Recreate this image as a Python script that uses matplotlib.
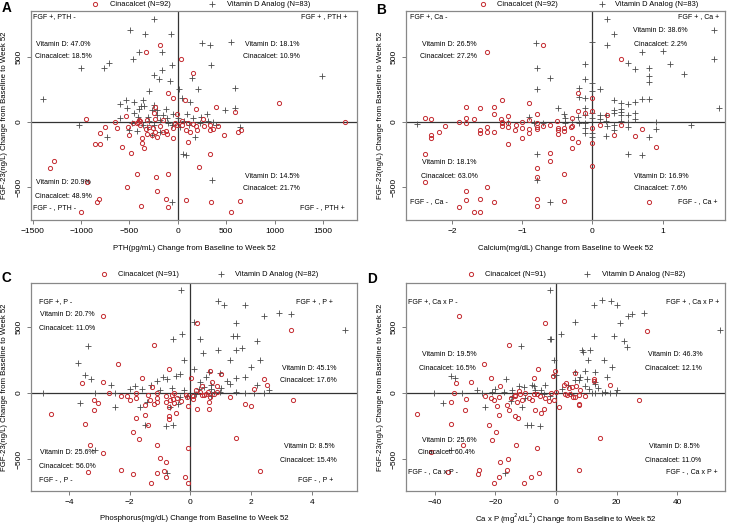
import matplotlib
matplotlib.use("Agg")
import matplotlib.pyplot as plt
from matplotlib.lines import Line2D

plt.rcParams['font.family'] = ['Liberation Sans', 'DejaVu Sans']

W, H = 733, 525

# ---------------- Panel A : PTH ----------------
a_cin_x = [-183, -331, 34, 152, -103, -52, 76, 190, 397, 590, 1042, 1732, -949, -649, -538, -235, -245, -10,
           -752, -631, -518, -804, -859, -804, -576, -507, -483, -373, -349, -373, 103, 224, 335, -1280, -1321,
           -424, -224, -100, -528, -217, -942, -817, -831, -1000, -383, -121, -103, 83, 345, 638, 555,
           -424, -321, -293, -252, -235, -217, -183, -124, -107, -45, -45, -28, 41, 86, 110, 162, 190, 128, 273,
           328, 335, 369, 411, 473, 618, 652, -407, -390, -328, -269, 41, -397, -148, -235,
           -460, -390, -150, 200, 260, -320, -10]
a_cin_y = [587, 536, 479, 372, 219, 186, 168, 102, 112, 79, 148, 0, 20, 3, 48, 112, 71, 61,
           -38, -43, -36, -87, -171, -171, -194, -99, -240, -163, -196, -125, -150, -342, -245, -298, -354,
           -398, -423, -398, -500, -525, -456, -592, -612, -689, -643, -592, -648, -594, -609, -607, -689,
           -10, 15, -36, -48, -74, -112, -31, -69, -94, -48, -125, -5, -23, -61, -5, -18, -31, -74, -31,
           -64, -23, -51, -31, -99, -74, -61, 3, -26, -56, -99, 8, 15, 15, 20,
           -10, 10, -80, -60, 20, -90, -20]
a_vit_x = [-241, -493, -338, -69, -397, -166, -459, -62, -711, -1000, -759, -162, -241, -190, -79, -293, -1397,
           -597, -535, -528, -355, -380, -269, -217, -121, -449, -1021, -735, -269, 17, 41, 128, 145, 204, 248,
           335, 341, 549, 1490, 593, 593, 490, 238, 369, 179, 52, 86, 352, -55, 645,
           -476, -321, -414, -397, 155, 59, 317, -114, -183, -304, -355, 231, -62, -217,
           -400, -300, -250, -150, -100, -50, 0, 20, 100, -350, -450, -250, -600, -500, 300, 400, -180, -420, 120]
a_vit_y = [785, 704, 671, 671, 538, 533, 482, 439, 454, 413, 413, 400, 362, 326, 314, 235, 173,
           138, 168, 105, 168, 122, 92, 92, 97, 66, -23, -112, -99, 255, 181, 156, 334, 250, 602,
           589, 436, 609, 352, 258, 110, 92, 41, 3, -112, -247, -255, -444, -609, -36,
           -10, -36, 41, 97, 28, 10, 10, 28, 15, 41, -23, -10, -23, 54,
           0, 10, -20, 50, -10, 60, 30, -40, 60, 120, 150, 130, 30, -60, 60, -20, -80, -70, -20]

# ---------------- Panel B : Calcium ----------------
b_cin_x = [-0.70, -1.50, 0.41, -1.29, -0.90, -0.20, -0.20, 0, 0, -0.10, -0.79, -0.29, 0.20, -1.80, -1.60, -1.40,
           -1.40, -1.20, -2.39, -2.30, -1.80, -1.69, -1.90, -1.80, -2.10, -2.30, -2.30, -2.19, -2.39, -2.39,
           -1.60, -1.60, -1.50, -1.50, -1.40, -1.20, 0, 0, 0, 0.11, 0.30, 0.41, 0.60, 0.70, 0.90, -0.60, -0.60,
           -0.79, -0.79, -0.40, -1.50, -1.80, -1.80, -1.60, -1.40, -1.90, -1.69, -1.60, -0.79, -0.79, -0.40, 0.81,
           -1.29, -1.29, -1.20, -1.20, -0.90, -0.90, -0.90, -0.79, -0.79, -0.79, -0.70, -0.49, -0.49, -0.49,
           -0.40, -0.40, -0.29, -0.29, -0.29, -0.20, -1.29, -1.09, -1.0, -1.0,
           -1.0, -0.6, -0.3, -1.1, -0.5, -1.3]
b_cin_y = [589, 536, 479, 168, 148, 219, 84, 186, 84, 71, 61, 28, 54, 112, 105, 112,
           59, 46, 28, 20, 28, 20, 0, -10, -28, -99, -120, -74, -245, -456,
           -61, -82, -36, -79, -74, -171, -48, -158, -337, -23, -99, -23, -107, -56, -191, -235, -296,
           -354, -418, -398, -500, -528, -597, -592, -615, -648, -686, -686, -587, -643, -604, -609,
           -10, -31, -5, -36, 15, -56, -82, -10, -36, -54, -31, -43, -61, -94,
           -43, -69, -28, -125, -196, -150, 3, -23, -43, -120,
           0, -20, -40, -60, 10, 20]
b_vit_x = [0.20, 0.30, 0.20, 0, -0.80, 1.74, 1.74, 1.0, 0.70, 1.11, 0.50, 0.60, 0.81, 0.81, 0.81, 1.31, -0.10,
           -0.10, -0.79, -0.79, -0.60, -0.19, -0.19, 0.11, 0, 0, -0.10, 0.30, 0.41, 0.51, 0.61, 0.70, 0.81, 1.81,
           -0.49, -0.10, 1.41, -2.50, 0.19, 0.81, 0.50, 0.70, -0.79, -0.79, -0.60,
           0.30, 0.30, 0.41, 0.41, 0.51, 0.51, 0.60, 0.19, 0.11, 0, 0, -0.10, -0.10, -0.10, -0.10, -0.19, -0.39,
           -0.39, -0.70, -0.84, -0.91, 0.90, 0.30, 0.51, 0.19, 0.41, 0, 0, -0.29, -1.20,
           0.1, 0.2, -0.2, 0.4, 0.6, -0.4, 0.9, 0.3]
b_vit_y = [785, 671, 589, 609, 602, 704, 479, 543, 533, 441, 454, 403, 416, 352, 309, 365, 441,
           326, 413, 255, 334, 260, 194, 250, 301, 237, 181, 168, 148, 138, 156, 173, 173, 105,
           110, 105, -26, -18, -107, -112, -247, -255, -247, -444, -609,
           92, 66, 79, 54, 54, 3, 66, 54, 54, 66, 28, 54, -10, -48, -82, -10, 28,
           -5, -5, -5, 41, 0, -23, -36, 10, 10, -87, -117, 3, 0,
           20, -30, 40, 100, 20, 60, -50, -60]

# ---------------- Panel C : Phosphorus ----------------
c_cin_x = [-2.88, 0.22, -1.19, 3.30, -2.38, -0.69, -3.58, -2.88, -1.58, -1.26, 0.01, 0.70, 1.02, 0.64, 2.42, 2.51,
           2.09, 3.38, -4.58, -3.48, -3.18, -3.05, -3.18, -2.69, -1.79, -1.89, -1.69, -1.40, 0.22, 1.52, -3.29,
           -2.88, -3.37, -2.29, -1.89, -1.10, -0.99, -0.79, -1.10, -0.88, -0.79, -1.29, -0.19, -0.09, -0.09, 2.29,
           -2.29, -2.09, -1.98, -1.79, -1.79, -1.48, -1.48, -1.40, -1.10, -1.10, -1.21, -1.10, -1.32, -0.79, -0.79,
           -0.68, -0.62, -0.57, -0.53, -0.69, -0.69, -0.69, -0.47, -0.16, -0.09, -0.11, 0.10, 0.10, 0.31, 0.38,
           0.44, 0.51, 0.58, 0.64, 0.60, 0.60, 0.77, 0.88, 0.88, 1.29, 1.79, 2.00, -0.55, -0.44, 0.38,
           -0.3, 0.2]
c_cin_y = [580, 529, 365, 474, 219, 181, 76, 81, 111, 43, 111, 81, 146, 164, 103, 63,
           30, -50, -161, -232, -50, -76, -126, 0, -189, -295, -348, -242, -124, -338, -396,
           -451, -597, -580, -610, -391, -494, -519, -602, -590, -635, -680, -635, -418, -680, -587,
           -25, -25, -50, 0, -38, -93, -164, -15, 0, -38, -81, -68, -53, -25, -68,
           -55, -18, -43, -76, -174, -199, -106, -151, -13, -101, -30, -25, -43, 5, -18,
           -13, -10, 8, -33, -71, -121, -10, 55, 8, -30, -86, -98, 0, -35, 50,
           -60, 20]
c_vit_x = [-0.30, 0.91, 1.12, 1.81, 2.91, 3.30, 2.42, 5.11, 0.11, 1.52, -0.27, -0.57, 1.41, 1.54, 0.31, 2.20, 0.42,
           0.91, 1.52, 1.70, -3.38, 1.30, 2.31, -0.20, 2.01, -3.71, -3.48, -3.27, 0.11, -0.46, -0.35, 0.60, 0.97,
           1.21, 1.30, 1.52, 1.81, -4.86, -3.15, -3.65, -2.47, -1.48, -0.79, -0.57, -3.13, -0.77,
           -0.77, -1.10, -1.81, -1.59, -2.47, -1.43, -1.65, -0.68, -0.33, -0.11, 0.69, 0.69, 0.69, 0.77, 1.81,
           2.42, 2.09, 0.31, 0.46, 0.99, -0.90, 0.11,
           -1.3, -2.0, -1.0, -0.6, -0.2, 0.3, 0.5, 1.0, 1.5, 2.2, 2.6, -2.6, -0.4, 0.2]
c_vit_y = [776, 696, 663, 663, 605, 595, 580, 474, 534, 529, 444, 408, 433, 433, 406, 393, 305,
           323, 328, 343, 358, 252, 252, 252, 197, 227, 134, 103, 181, 131, 146, 159, 154,
           88, 71, 111, 121, 0, 0, -76, -106, -239, -249, -239, -428, -605,
           108, 91, 50, 33, 0, -71, -106, -106, -30, -25, 58, 33, -20, 5, 0,
           0, 0, 83, 45, 5, 121, -5,
           60, 30, 20, 40, 20, 30, 120, 40, 10, 60, 20, 60, -80, -10]

# ---------------- Panel D : Ca x P ----------------
d_cin_x = [-31.9, -3.5, -15.4, 30.2, -23.6, -5.9, 6.2, 12.7, 17.7, -0.4, -21.3, -33.0, -28.2, -18.5, -33.5, -7.4,
           3.4, 27.3, -45.8, -34.6, -34.8, -29.7, -29.9, 14.6, -6.3, -13.1, -30.7, -18.4, -15.8, -16.3, -25.5,
           -25.7, -35.6, -18.8, -20.5, -10.7, -8.4, -5.5, 7.5, -41.4,
           -23.3, -21.5, -20.5, -18.7, -19.5, -18.9, -22.0, -19.8, -21.1, -16.2, -15.4, -14.9, -13.4, -12.9,
           -11.8, -11.2, -13.4, -12.5, -10.1, -8.8, -7.9, -7.4, -6.8, -6.3, -5.2, -4.8, -4.1, -3.5, -2.2, -1.6,
           1.1, 0, -0.7, 2.9, 3.6, 4.8, 5.7, 7.5, 9.7, 7.7, 7.7, 6.2, 8.0, 2.5, 4.2, 5.3, 6.6, -12.1, -13.4,
           12.7, -1.0]
d_cin_y = [580, 529, 365, 471, 217, 179, 149, 103, 63, 164, 113, 76, 81, 50, 0, 111,
           76, -50, -161, -232, -71, -45, -126, -338, -416, -396, -396, -519, -496, -585, -580,
           -610, -597, -635, -680, -680, -635, -602, -585, -449,
           -25, -38, -55, -30, -98, -169, -242, -295, -353, -93, -126, -38, -25, -71,
           -5, -50, -171, -189, 3, -38, -55, -10, -126, -5, -23, -151, -118, -35, -60, 3,
           -106, 8, -55, -5, -18, -10, -30, -18, -23, -81, -91, -33, 25, 58, 38, 45, 50, 13, -13,
           90, 130]
d_vit_x = [-1.9, 15.2, 12.7, 18.2, 20.1, 25.1, 28.9, 23.8, 21.2, 6.4, 1.8, 19.0, 12.7, 54.0, -1.5, -11.4, 8.6,
           11.3, 16.0, 22.3, 23.4, 10.5, -0.8, 13.0, 9.7, 18.5, 16.8, -34.8, -16.5, -0.8, -40.3, -37.3, -23.3,
           -9.6, -8.1, -5.2, -34.6, -16.9,
           6.4, 6.4, 7.5, 10.2, 13.0, 13.0, 9.7, 11.9, 13.0, 15.2, 17.9, 19.8, 16.3, -33.4, 0, -31.0, -24.4,
           -21.1, -14.5, -12.3, -10.7, -14.5, -11.2, -10.1, -7.4, -6.8, -4.1, -3.5, 8.8,
           -2.0, -20, -17, -8, -5, -2, 2, 4, 8, 11, 14, -13, -26, -15, 5, 20]
d_vit_y = [776, 700, 663, 696, 663, 595, 605, 580, 529, 534, 444, 433, 433, 474, 408, 358, 328,
           328, 252, 393, 348, 252, 252, 159, 164, 197, 121, 129, 106, 139, 0, -76, -106,
           -242, -242, -249, -428, -605,
           159, 101, 101, 108, 83, 66, 50, 0, 0, 0, 0, 0, 10, 111, 134, 0, 0,
           8, 25, 50, 45, -30, -106, -38, 50, 25, -5, 58, 310,
           410, 30, 10, 60, 20, -20, 30, 60, 120, 30, 40, 0, 20, -60, -10, 20]

legend_cin = ["Cinacalcet (N=92)", "Cinacalcet (N=92)", "Cinacalcet (N=91)", "Cinacalcet (N=91)"]
legend_vit = ["Vitamin D Analog (N=83)", "Vitamin D Analog (N=83)", "Vitamin D Analog (N=82)", "Vitamin D Analog (N=82)"]
xlabels = ["PTH(pg/mL) Change from Baseline to Week 52",
           "Calcium(mg/dL) Change from Baseline to Week 52",
           "Phosphorus(mg/dL) Change from Baseline to Week 52",
           "Ca x P (mg$^2$/dL$^2$) Change from Baseline to Week 52"]
ylabel = "FGF-23(ng/L) Change from Baseline to Week 52"
letters = ["A", "B", "C", "D"]
xticks = [[-1500, -1000, -500, 0, 500, 1000, 1500], [-2, -1, 0, 1], [-4, -2, 0, 2, 4], [-40, -20, 0, 20, 40]]
yticks = [-500, 0, 500]
xlims = [(-1518, 1853), (-2.66, 1.89), (-5.25, 5.49), (-49.5, 55.8)]
ylims = [(-750, 849), (-750, 849), (-741, 832), (-741, 832)]

RED = '#c42b30'
GREY = '#4a4a4a'
FS_TXT = 5.0

fig = plt.figure(figsize=(W / 100, H / 100), dpi=100)


def ftext(x, y, s, ha='left', size=FS_TXT, **kw):
    fig.text(x / W, 1 - y / H, s, ha=ha, va='center', fontsize=size, **kw)


boxes = [(31, 357, 11, 220), (406, 725, 11, 220), (31, 357, 283, 491), (406, 725, 283, 491)]
data = [(a_cin_x, a_cin_y, a_vit_x, a_vit_y), (b_cin_x, b_cin_y, b_vit_x, b_vit_y),
        (c_cin_x, c_cin_y, c_vit_x, c_vit_y), (d_cin_x, d_cin_y, d_vit_x, d_vit_y)]

for i, (l, r, t, b) in enumerate(boxes):
    ax = fig.add_axes([l / W, 1 - b / H, (r - l) / W, (b - t) / H])
    cx, cy, vx, vy = data[i]
    ax.axhline(0, color='#333333', lw=0.9, zorder=1)
    ax.axvline(0, color='#333333', lw=0.9, zorder=1)
    ax.plot(vx, vy, linestyle='none', marker='+', ms=4.0, mew=0.6, color=GREY, zorder=2)
    ax.plot(cx, cy, linestyle='none', marker='o', ms=3.0, mew=0.7, mfc='none', mec=RED, zorder=3)
    ax.set_xlim(*xlims[i])
    ax.set_ylim(*ylims[i])
    ax.set_xticks(xticks[i])
    ax.set_yticks(yticks)
    ax.tick_params(axis='both', length=3, width=0.6, color='#666666', labelsize=6.0, pad=3)
    for lab in ax.get_yticklabels():
        lab.set_rotation(90)
        lab.set_va('center')
    for sp in ax.spines.values():
        sp.set_color('#888888')
        sp.set_linewidth(0.9)

    xc = (l + r) / 2
    yc = (t + b) / 2
    ftext(xc, b + 28, xlabels[i], ha='center', size=5.6)
    fig.text((l - 26) / W, 1 - yc / H, ylabel, rotation=90, ha='center', va='center', fontsize=5.6)

# legends and panel letters
leg = [(95, 4, 110, 212, 227), (483, 4, 497, 602, 615), (104, 274, 118, 221, 235), (471, 274, 485, 587, 602)]
let_pos = [(2, 8.5), (376, 10), (1, 278), (367, 279)]
for i in range(4):
    cxp, yy, tx1, vxp, tx2 = leg[i]
    fig.add_artist(Line2D([cxp / W], [1 - yy / H], linestyle='none', marker='o', ms=3.0, mew=0.7,
                          mfc='none', mec=RED, transform=fig.transFigure))
    fig.add_artist(Line2D([vxp / W], [1 - yy / H], linestyle='none', marker='+', ms=4.0, mew=0.6,
                          color=GREY, transform=fig.transFigure))
    ftext(tx1, yy, legend_cin[i], size=5.4)
    ftext(tx2, yy, legend_vit[i], size=5.4)
    lx, ly = let_pos[i]
    ftext(lx, ly, letters[i], size=9.8, fontweight='bold')

# quadrant annotations (text, pixel placement)
ann = [
    # Panel A
    (33, 17, "FGF +, PTH -", 'left'), (347, 17, "FGF + , PTH +", 'right'),
    (36, 44, "Vitamin D: 47.0%", 'left'), (35, 57, "Cinacalcet: 18.5%", 'left'),
    (245, 44, "Vitamin D: 18.1%", 'left'), (243, 57, "Cinacalcet: 10.9%", 'left'),
    (36, 183, "Vitamin D: 20.9%", 'left'), (35, 196, "Cinacalcet: 48.9%", 'left'),
    (33, 208, "FGF - , PTH -", 'left'),
    (245, 176, "Vitamin D: 14.5%", 'left'), (243, 189, "Cinacalcet: 21.7%", 'left'),
    (345, 208, "FGF - , PTH +", 'right'),
    # Panel B
    (410, 17, "FGF +, Ca -", 'left'), (719, 17, "FGF + , Ca +", 'right'),
    (422, 44, "Vitamin D: 26.5%", 'left'), (420, 57, "Cinacalcet: 27.2%", 'left'),
    (633, 31, "Vitamin D: 38.6%", 'left'), (634, 44, "Cinacalcet: 2.2%", 'left'),
    (422, 163, "Vitamin D: 18.1%", 'left'), (421, 176, "Cinacalcet: 63.0%", 'left'),
    (410, 202, "FGF - , Ca -", 'left'),
    (634, 176, "Vitamin D: 16.9%", 'left'), (634, 189, "Cinacalcet: 7.6%", 'left'),
    (718, 202, "FGF - , Ca +", 'right'),
    # Panel C
    (39, 302, "FGF +, P -", 'left'), (333, 302, "FGF + , P +", 'right'),
    (40, 314, "Vitamin D: 20.7%", 'left'), (39, 328, "Cinacalcet: 11.0%", 'left'),
    (282, 368, "Vitamin D: 45.1%", 'left'), (280, 380, "Cinacalcet: 17.6%", 'left'),
    (40, 453, "Vitamin D: 25.6%", 'left'), (39, 466, "Cinacalcet: 56.0%", 'left'),
    (39, 480, "FGF - , P -", 'left'),
    (284, 446, "Vitamin D: 8.5%", 'left'), (280, 460, "Cinacalcet: 15.4%", 'left'),
    (333, 480, "FGF - , P +", 'right'),
    # Panel D
    (408, 302, "FGF +, Ca x P -", 'left'), (719, 302, "FGF + , Ca x P +", 'right'),
    (422, 354, "Vitamin D: 19.5%", 'left'), (419, 368, "Cinacalcet: 16.5%", 'left'),
    (648, 354, "Vitamin D: 46.3%", 'left'), (645, 368, "Cinacalcet: 12.1%", 'left'),
    (422, 441, "Vitamin D: 25.6%", 'left'), (418, 453, "Cinacalcet: 60.4%", 'left'),
    (408, 472, "FGF - , Ca x P -", 'left'),
    (649, 447, "Vitamin D: 8.5%", 'left'), (645, 460, "Cinacalcet: 11.0%", 'left'),
    (718, 472, "FGF - , Ca x P +", 'right'),
]
for x, y, s, ha in ann:
    ftext(x, y, s, ha=ha, size=5.0)

fig.savefig("out.png", dpi=100)
